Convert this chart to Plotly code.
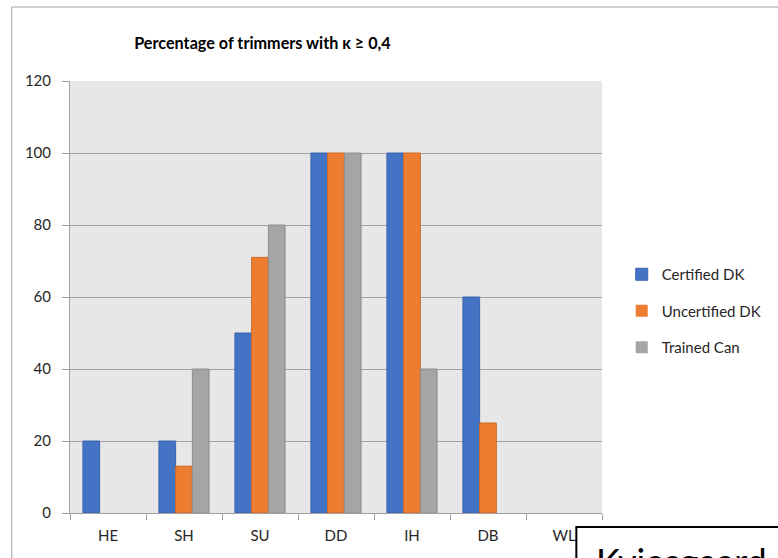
import plotly.graph_objects as go

categories = ["HE", "SH", "SU", "DD", "IH", "DB", "WL"]
certified_dk = [20, 20, 50, 100, 100, 60, 0]
uncertified_dk = [0, 13, 71, 100, 100, 25, 0]
trained_can = [0, 40, 80, 100, 40, 0, 0]
series_names = ["Certified DK", "Uncertified DK", "Trained Can"]
y_ticks = [0, 20, 40, 60, 80, 100, 120]

W, H = 778, 558
L, R, T, B = 70, 609, 81, 513

def px_x(px):
    return (px - L) / (R - L)

def px_y(py):
    return (B - py) / (B - T)

fig = go.Figure()
colors = ["#4472C4", "#ED7D31", "#A5A5A5"]
edges = ["#3A63AC", "#D06A28", "#8E8E8E"]
for name, vals, c, e in zip(series_names, [certified_dk, uncertified_dk, trained_can], colors, edges):
    fig.add_trace(go.Bar(
        x=categories, y=vals, name=name, legendgroup=name,
        marker=dict(color=c, line=dict(color=e, width=[1 if v else 0 for v in vals])),
    ))

font_family = "Lato, 'Open Sans', sans-serif"

fig.update_layout(
    width=W, height=H,
    margin=dict(l=L, r=W - R, t=T, b=H - B),
    paper_bgcolor="white",
    plot_bgcolor="#E7E7E7",
    barmode="group",
    bargap=0.34,
    bargroupgap=0,
    font=dict(family=font_family, size=15, color="#262626"),
    title=dict(
        text="<b>Percentage of trimmers with κ ≥ 0,4</b>",
        x=px_x(265), xref="paper", xanchor="center",
        y=1 - 43 / H, yref="container", yanchor="middle",
        font=dict(family=font_family, size=16.2, color="#000000"),
    ),
    legend=dict(
        x=px_x(629), xanchor="left",
        y=px_y(258), yanchor="top",
        traceorder="grouped",
        tracegroupgap=14,
        font=dict(family=font_family, size=15, color="#262626"),
        bgcolor="rgba(0,0,0,0)",
    ),
    xaxis=dict(
        type="category",
        tickson="boundaries",
        ticks="outside", ticklen=6, tickcolor="#A0A0A0",
        showgrid=False,
        showline=True, linecolor="#A0A0A0", linewidth=1,
        tickfont=dict(size=15, color="#262626"),
        ticklabelstandoff=9,
        range=[-0.5, 6.5],
    ),
    yaxis=dict(
        range=[0, 120],
        tickvals=y_ticks,
        ticks="outside", ticklen=7, tickcolor="#A0A0A0",
        showgrid=True, gridcolor="#A0A0A0", gridwidth=1,
        showline=True, linecolor="#A0A0A0", linewidth=1,
        zeroline=False,
        tickfont=dict(size=15, color="#262626"),
        ticklabelstandoff=8,
    ),
)

# outer chart frame
fig.add_shape(type="rect", xref="paper", yref="paper",
              x0=px_x(11), x1=px_x(800), y0=px_y(580), y1=px_y(7),
              line=dict(color="#A0A0A0", width=1), fillcolor="rgba(0,0,0,0)", layer="below")

# overlapping text box
fig.add_shape(type="rect", xref="paper", yref="paper",
              x0=px_x(583), x1=px_x(800), y0=px_y(600), y1=px_y(527),
              line=dict(color="#000000", width=2), fillcolor="white", layer="above")
fig.add_annotation(
    xref="paper", yref="paper",
    x=px_x(602), y=px_y(538), xanchor="left", yanchor="top",
    text="Kviesgaard", showarrow=False, align="left",
    font=dict(family="Lato, 'Liberation Sans', sans-serif", size=36, color="#000000"),
    borderpad=0,
)

fig.write_html("out.html", post_script="document.body.style.margin='0px';",
               config={"displayModeBar": False})
